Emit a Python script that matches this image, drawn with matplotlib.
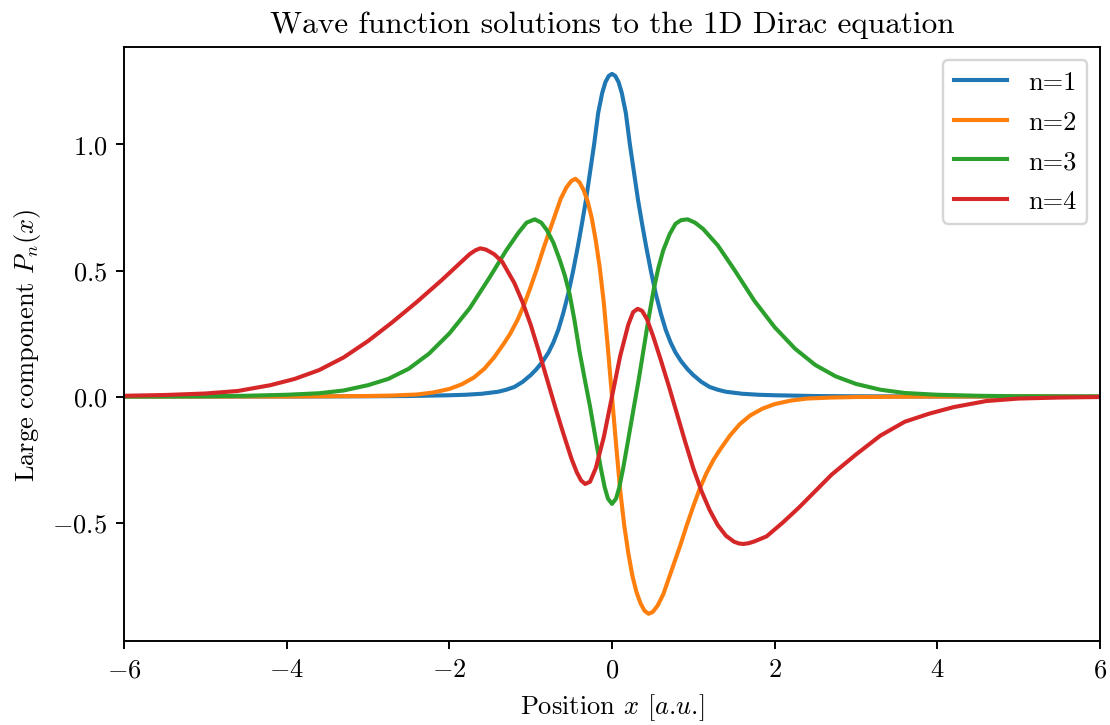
import matplotlib
matplotlib.use('Agg')
import matplotlib.pyplot as plt

plt.rcParams['font.family'] = 'serif'
plt.rcParams['font.serif'] = ['cmr10', 'DejaVu Serif']
plt.rcParams['mathtext.fontset'] = 'cm'
plt.rcParams['axes.formatter.use_mathtext'] = True
plt.rcParams['font.size'] = 11

# values
x_n1 = [-6, -4, -3, -2.5, -2.0, -1.8, -1.6, -1.4, -1.3, -1.2, -1.1, -1.0, -0.93, -0.85, -0.78,
        -0.72, -0.66, -0.6, -0.54, -0.48, -0.42, -0.37, -0.32, -0.27, -0.22, -0.17, -0.12, -0.08,
        -0.04, 0, 0.04, 0.08, 0.12, 0.17, 0.22, 0.27, 0.32, 0.37, 0.42, 0.48, 0.54, 0.6, 0.66,
        0.72, 0.78, 0.85, 0.93, 1.0, 1.1, 1.2, 1.3, 1.4, 1.6, 1.8, 2.0, 2.5, 3, 4, 6]
y_n1 = [0, 0, 0.001, 0.002, 0.005, 0.007, 0.011, 0.019, 0.027, 0.038, 0.058, 0.085, 0.108, 0.14,
        0.175, 0.215, 0.265, 0.33, 0.405, 0.495, 0.595, 0.685, 0.78, 0.89, 1.0, 1.125, 1.205, 1.248,
        1.272, 1.28, 1.272, 1.248, 1.205, 1.125, 1.0, 0.89, 0.78, 0.685, 0.595, 0.495, 0.405, 0.33, 0.265,
        0.215, 0.175, 0.14, 0.108, 0.085, 0.058, 0.038, 0.027, 0.019, 0.011, 0.007, 0.005, 0.002, 0.001, 0, 0]

x_n2 = [-6, -4, -3.5, -3.0, -2.7, -2.4, -2.2, -2.0, -1.85, -1.7, -1.57, -1.45, -1.33, -1.25, -1.16,
        -1.08, -1.0, -0.92, -0.84, -0.77, -0.7, -0.63, -0.56, -0.5, -0.45, -0.4, -0.35, -0.3, -0.25,
        -0.2, -0.15, -0.1, -0.05, 0, 0.05, 0.1, 0.15, 0.2, 0.25, 0.3, 0.35, 0.4, 0.45, 0.5, 0.56,
        0.63, 0.7, 0.77, 0.84, 0.92, 1.0, 1.08, 1.16, 1.25, 1.33, 1.45, 1.57, 1.7, 1.85, 2.0, 2.2,
        2.4, 2.7, 3.0, 3.5, 4, 6]
y_n2 = [0, 0, 0.001, 0.002, 0.004, 0.008, 0.016, 0.03, 0.048, 0.075, 0.11, 0.155, 0.21, 0.25, 0.305,
        0.365, 0.435, 0.51, 0.59, 0.655, 0.72, 0.785, 0.83, 0.855, 0.864, 0.85, 0.82, 0.775, 0.71,
        0.62, 0.51, 0.37, 0.19, 0.0, -0.19, -0.37, -0.51, -0.62, -0.71, -0.775, -0.82, -0.85, -0.862, -0.855, -0.83,
        -0.785, -0.72, -0.655, -0.59, -0.51, -0.435, -0.365, -0.305, -0.25, -0.21, -0.155, -0.11, -0.075, -0.048, -0.03, -0.016,
        -0.008, -0.004, -0.002, -0.001, 0, 0]

x_n3 = [-6, -5, -4.5, -4, -3.6, -3.3, -3.0, -2.75, -2.5, -2.25, -2.0, -1.75, -1.5, -1.3, -1.15,
        -1.05, -0.95, -0.87, -0.8, -0.72, -0.64, -0.58, -0.52, -0.46, -0.4, -0.33, -0.27, -0.2,
        -0.14, -0.09, -0.05, 0, 0.05, 0.09, 0.14, 0.2, 0.27, 0.33, 0.39, 0.45, 0.51, 0.57, 0.63,
        0.71, 0.78, 0.85, 0.93, 1.02, 1.12, 1.3, 1.5, 1.75, 2.0, 2.25, 2.5, 2.75, 3.0, 3.3, 3.6,
        4, 4.5, 5, 6]
y_n3 = [0, 0.001, 0.003, 0.007, 0.013, 0.024, 0.045, 0.07, 0.11, 0.17, 0.25, 0.35, 0.475, 0.58, 0.65,
        0.69, 0.703, 0.69, 0.66, 0.61, 0.54, 0.48, 0.405, 0.3, 0.18, 0.06, -0.04, -0.17,
        -0.28, -0.36, -0.405, -0.426, -0.405, -0.36, -0.28, -0.17, -0.04, 0.07, 0.19, 0.31, 0.42, 0.51, 0.58,
        0.645, 0.685, 0.70, 0.703, 0.69, 0.665, 0.6, 0.505, 0.38, 0.275, 0.19, 0.125, 0.08, 0.05, 0.027, 0.014,
        0.007, 0.003, 0.001, 0]

x_n4 = [-6, -5.5, -5.0, -4.6, -4.2, -3.9, -3.6, -3.3, -3.0, -2.7, -2.4, -2.1, -1.9, -1.75, -1.68,
        -1.62, -1.55, -1.45, -1.35, -1.2, -1.1, -1.0, -0.9, -0.8, -0.7, -0.6, -0.5, -0.434, -0.38,
        -0.33, -0.27, -0.2, -0.1, 0, 0.1, 0.2, 0.26, 0.316, 0.37, 0.43, 0.5, 0.6, 0.7, 0.8, 0.9,
        1.0, 1.1, 1.2, 1.3, 1.4, 1.5, 1.56, 1.615, 1.68, 1.75, 1.9, 2.1, 2.3, 2.5, 2.7, 3.0, 3.3,
        3.6, 3.9, 4.2, 4.6, 5.0, 5.5, 6]
y_n4 = [0.003, 0.006, 0.012, 0.022, 0.045, 0.07, 0.105, 0.155, 0.22, 0.295, 0.375, 0.46, 0.52, 0.565, 0.58,
        0.588, 0.583, 0.565, 0.535, 0.45, 0.375, 0.285, 0.18, 0.07, -0.04, -0.145, -0.245, -0.3, -0.333,
        -0.347, -0.338, -0.285, -0.16, 0, 0.16, 0.285, 0.335, 0.348, 0.34, 0.307, 0.245, 0.145, 0.04, -0.07, -0.18,
        -0.285, -0.375, -0.45, -0.51, -0.552, -0.576, -0.583, -0.585, -0.582, -0.575, -0.555, -0.50, -0.44, -0.375, -0.31, -0.23, -0.155,
        -0.1, -0.068, -0.042, -0.018, -0.008, -0.004, -0.002]

series = [("n=1", x_n1, y_n1), ("n=2", x_n2, y_n2), ("n=3", x_n3, y_n3), ("n=4", x_n4, y_n4)]

dpi = 173
fig = plt.figure(figsize=(1110 / dpi, 726 / dpi), dpi=dpi)
ax = fig.add_axes([0.1117, 0.116, 0.8793, 0.818])
for lab, xs, ys in series:
    ax.plot(xs, ys, label=lab, lw=1.7)
ax.set_xlim(-6, 6)
ax.set_title("Wave function solutions to the 1D Dirac equation", fontsize=13)
ax.set_xlabel(r"Position $x$ $[a$.$u$.$]$")
ax.set_ylabel(r"Large component $P_n(x)$")
ax.legend(loc='upper right', labelspacing=0.6)
fig.savefig("out.png", dpi=dpi)
